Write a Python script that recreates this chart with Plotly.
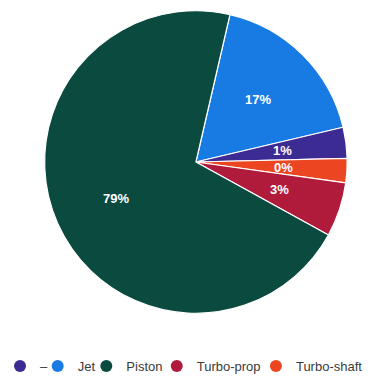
import math
import plotly.graph_objects as go

# slice order as drawn clockwise from the top
slice_labels = ["Jet", "–", "Turbo-shaft", "Turbo-prop", "Piston"]
slice_sizes = [17.7, 3.3, 2.6, 5.8, 70.6]
slice_text = ["17%", "1%", "0%", "3%", "79%"]

legend_labels = ["–", "Jet", "Piston", "Turbo-prop", "Turbo-shaft"]
colors = {
    "–": "#3b2b92",
    "Jet": "#187be4",
    "Piston": "#0a4a3f",
    "Turbo-prop": "#b01a3b",
    "Turbo-shaft": "#ec4522",
}

W, H = 370, 381
start_deg = 13
dom_x = [0.1135, 0.9378]
dom_y = [0.1732, 0.9764]

fig = go.Figure()
fig.add_trace(go.Pie(
    labels=slice_labels,
    values=slice_sizes,
    text=slice_text,
    textinfo="none",
    sort=False,
    direction="clockwise",
    rotation=start_deg,
    marker=dict(colors=[colors[l] for l in slice_labels],
                line=dict(color="white", width=1.2)),
    showlegend=False,
    hoverinfo="label+text",
    domain=dict(x=dom_x, y=dom_y),
))

# slice labels placed along each slice bisector
cx = (dom_x[0] + dom_x[1]) / 2
cy = (dom_y[0] + dom_y[1]) / 2
R = min((dom_x[1] - dom_x[0]) * W, (dom_y[1] - dom_y[0]) * H) / 2
total = sum(slice_sizes)
acc = 0.0
annotations = []
for lab, val, txt in zip(slice_labels, slice_sizes, slice_text):
    mid = start_deg + (acc + val / 2) / total * 360
    acc += val
    r = 0.58 * R
    th = math.radians(mid)
    annotations.append(dict(
        x=cx + r * math.sin(th) / W, y=cy + r * math.cos(th) / H,
        xref="paper", yref="paper", text=f"<b>{txt}</b>", showarrow=False,
        font=dict(family="Arial, Liberation Sans", size=13, color="white"),
        xanchor="center", yanchor="middle",
    ))

# legend: one legend box per entry, placed in a row
legend_x_px = [-3, 35, 84, 155, 255]
layout_legends = {}
for i, (l, xp) in enumerate(zip(legend_labels, legend_x_px)):
    key = "legend" if i == 0 else f"legend{i+1}"
    fig.add_trace(go.Scatter(
        x=[None], y=[None], mode="markers", name=l, legend=key,
        marker=dict(symbol="circle", size=12, color=colors[l]),
    ))
    layout_legends[key] = dict(
        orientation="h", x=xp / W, xanchor="left", y=(H - 366) / H, yanchor="middle",
        font=dict(family="Arial, Liberation Sans", size=13, color="#3a3a3a"),
        bgcolor="rgba(0,0,0,0)", itemwidth=30,
    )

fig.update_layout(
    width=W, height=H,
    margin=dict(l=0, r=0, t=0, b=0),
    paper_bgcolor="white", plot_bgcolor="white",
    xaxis=dict(visible=False), yaxis=dict(visible=False),
    annotations=annotations,
    **layout_legends,
)

fig.write_html("out.html")
